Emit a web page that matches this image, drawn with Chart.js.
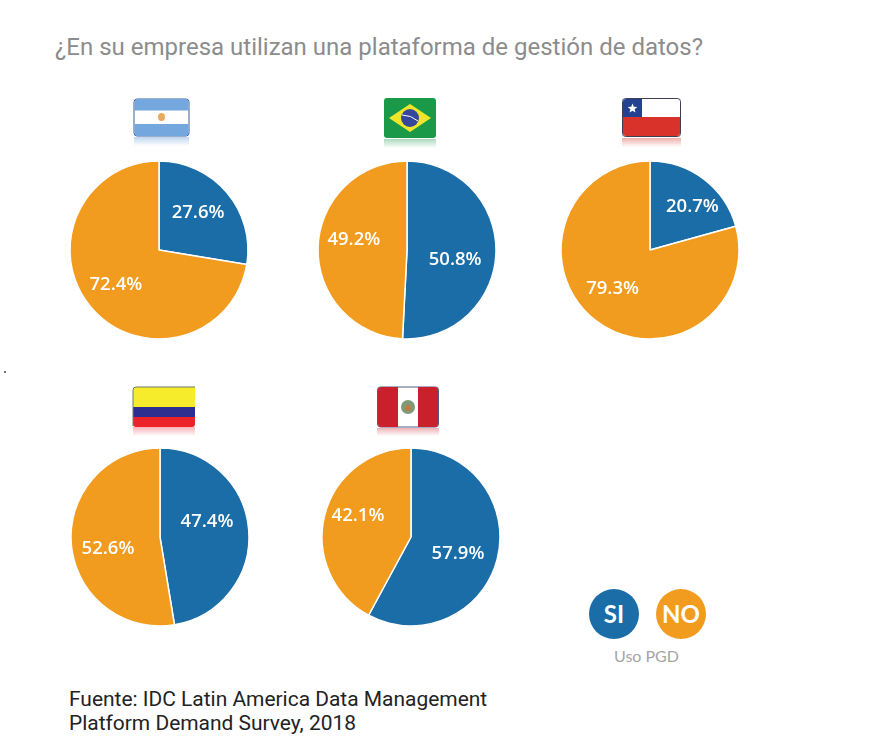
<!DOCTYPE html>
<html lang="es">
<head>
<meta charset="utf-8">
<title>Uso PGD</title>
<script src="https://cdn.jsdelivr.net/npm/chart.js@4/dist/chart.umd.min.js"></script>
<style>
html, body { margin: 0; background: #fff; }
#page { position: relative; width: 880px; height: 750px; overflow: hidden; }
#page > * { position: absolute; }
canvas { width: 200px; height: 200px; }
#title { left: 55px; top: 33px; font: 24px Roboto, sans-serif; color: #8c8c8c; white-space: nowrap; }
#source { left: 69px; top: 687px; font: 20.950px/24px Roboto, sans-serif; color: #222; white-space: nowrap; }
.dot { width: 50px; height: 50px; border-radius: 50%; color: #fff; font: 700 24px/50px Lato, sans-serif; text-align: center; }
#si { left: 589px; top: 589px; background: #1b6da8; }
#no { left: 656px; top: 589px; background: #f29c1f; }
#uso { left: 614px; top: 646px; font: 16px Lato, sans-serif; color: #a5a5a5; white-space: nowrap; }
#speck { left: 4px; top: 371px; width: 2px; height: 2px; background: #777; }
.flag { filter: blur(.5px); overflow: visible; }
</style>
</head>
<body>
<div id="page">
  <div id="title">¿En su empresa utilizan una plataforma de gestión de datos?</div>

  <svg class="flag" style="left:133px;top:98px" width="57" height="50" viewBox="0 0 57 50">
    <defs><linearGradient id="fadeAr" x1="0" y1="0" x2="0" y2="1"><stop offset="0" stop-color="#6fa3dc" stop-opacity=".45"/><stop offset="1" stop-color="#6fa3dc" stop-opacity="0"/></linearGradient></defs>
    <rect x="1" y="39" width="55" height="9" fill="url(#fadeAr)"/>
    <rect x="1" y="1" width="55" height="37" rx="3" fill="#fff" stroke="#3a5f92"/>
    <path d="M1.5 4a3 3 0 0 1 3-3h48a3 3 0 0 1 3 3v8.500h-54z" fill="#74a7de"/>
    <path d="M1.500 26h54v9a3 3 0 0 1-3 3h-48a3 3 0 0 1-3-3z" fill="#74a7de"/>
    <ellipse cx="28.500" cy="19" rx="3.500" ry="4" fill="#eba960"/>
  </svg>

  <svg class="flag" style="left:384px;top:98px" width="53" height="52" viewBox="0 0 53 52">
    <defs><linearGradient id="fadeBr" x1="0" y1="0" x2="0" y2="1"><stop offset="0" stop-color="#2f9e58" stop-opacity=".4"/><stop offset="1" stop-color="#2f9e58" stop-opacity="0"/></linearGradient></defs>
    <rect x="0" y="41" width="52" height="9" fill="url(#fadeBr)"/>
    <rect x="0" y="0" width="52" height="40" rx="3" fill="#1a9a48"/>
    <path d="M26 6 47 20 26 34 5 20z" fill="#efe62a"/>
    <circle cx="26" cy="20" r="9" fill="#34479a"/>
    <path d="M18 17q9 0 16 6" stroke="#fff" stroke-width="1" fill="none"/>
  </svg>

  <svg class="flag" style="left:622px;top:98px" width="60" height="52" viewBox="0 0 60 52">
    <defs><linearGradient id="fadeCl" x1="0" y1="0" x2="0" y2="1"><stop offset="0" stop-color="#d9362b" stop-opacity=".4"/><stop offset="1" stop-color="#d9362b" stop-opacity="0"/></linearGradient></defs>
    <rect x="0" y="40" width="59" height="9" fill="url(#fadeCl)"/>
    <rect x="0.500" y="0.500" width="58" height="38" rx="3" fill="#fff" stroke="#3f3f55"/>
    <path d="M1 19h57v16a3 3 0 0 1-3 3H4a3 3 0 0 1-3-3z" fill="#d9322a"/>
    <path d="M1 4a3 3 0 0 1 3-3h16v18H1z" fill="#24418f"/>
    <path d="M10.500 5.500l1.300 3.300 3.500.2-2.700 2.200.9 3.400-3-1.900-3 1.900.9-3.400-2.700-2.200 3.500-.2z" fill="#fff"/>
  </svg>

  <svg class="flag" style="left:133px;top:386px" width="63" height="52" viewBox="0 0 63 52">
    <defs><linearGradient id="fadeCo" x1="0" y1="0" x2="0" y2="1"><stop offset="0" stop-color="#e8222c" stop-opacity=".35"/><stop offset="1" stop-color="#e8222c" stop-opacity="0"/></linearGradient></defs>
    <rect x="0" y="41" width="62" height="9" fill="url(#fadeCo)"/>
    <path d="M0 4a3 3 0 0 1 3-3h59v20H0z" fill="#f6ec2b"/>
    <rect x="0" y="21" width="62" height="10" fill="#2c2f8f"/>
    <path d="M0 31h62v7a3 3 0 0 1-3 3H3a3 3 0 0 1-3-3z" fill="#ec2229"/>
    <path d="M0 40V4a3 3 0 0 1 3-3h59" fill="none" stroke="#6d7a70"/>
  </svg>

  <svg class="flag" style="left:377px;top:386px" width="63" height="52" viewBox="0 0 63 52">
    <defs><linearGradient id="fadePe" x1="0" y1="0" x2="0" y2="1"><stop offset="0" stop-color="#c9202c" stop-opacity=".35"/><stop offset="1" stop-color="#c9202c" stop-opacity="0"/></linearGradient></defs>
    <rect x="0" y="42" width="62" height="8" fill="url(#fadePe)"/>
    <rect x="0.500" y="1" width="61" height="40" rx="3" fill="#fff" stroke="#4f5a86"/>
    <path d="M1 4a3 3 0 0 1 3-3h17v40H4a3 3 0 0 1-3-3z" fill="#c9202c"/>
    <path d="M41 1h17a3 3 0 0 1 3 3v34a3 3 0 0 1-3 3H41z" fill="#c9202c"/>
    <circle cx="31" cy="21" r="7" fill="#7f9a7a"/>
    <circle cx="31" cy="22" r="3" fill="#c2793f"/>
  </svg>

  <canvas id="pie0" width="200" height="200" style="left:59px;top:150px"></canvas>
  <canvas id="pie1" width="200" height="200" style="left:307px;top:150px"></canvas>
  <canvas id="pie2" width="200" height="200" style="left:550px;top:150px"></canvas>
  <canvas id="pie3" width="200" height="200" style="left:60px;top:437px"></canvas>
  <canvas id="pie4" width="200" height="200" style="left:311px;top:437px"></canvas>

  <div class="dot" id="si">SI</div>
  <div class="dot" id="no">NO</div>
  <div id="uso">Uso PGD</div>
  <div id="speck"></div>
  <div id="source">Fuente: IDC Latin America Data Management<br>Platform Demand Survey, 2018</div>
</div>

<script>
const countries = ["Argentina", "Brasil", "Chile", "Colombia", "Perú"];
const answers = ["SI", "NO"];
const siValues = [27.6, 50.8, 20.7, 47.4, 57.9];
const noValues = [72.4, 49.2, 79.3, 52.6, 42.1];

const colors = ["#1b6da8", "#f29c1f"];

// small nudges so the labels sit where they do in the original, [x, y] per slice
const labelNudge = [
    [[-3, -1.500], [-1, -1]],
    [[-7, 8], [2, -9]],
    [[9, 1], [-4, -5]],
    [[-8, -11], [3, 7.500]],
    [[-6.500, 3.500], [0.500, -7.500]]
];

const sliceLabels = {
    id: "sliceLabels",
    afterDatasetsDraw(chart) {
        const ctx = chart.ctx;
        const nudge = labelNudge[chart.canvas.id.replace("pie", "")];
        ctx.save();
        ctx.fillStyle = "#fff";
        ctx.font = "600 18.500px 'Open Sans', sans-serif";
        ctx.textAlign = "center";
        ctx.textBaseline = "middle";
        chart.getDatasetMeta(0).data.forEach((arc, i) => {
            const mid = (arc.startAngle + arc.endAngle) / 2;
            const x = arc.x + Math.cos(mid) * arc.outerRadius * 0.62 + nudge[i][0];
            const y = arc.y + Math.sin(mid) * arc.outerRadius * 0.62 + nudge[i][1];
            ctx.fillText(chart.data.datasets[0].data[i].toFixed(1) + "%", x, y);
        });
        ctx.restore();
    }
};

countries.forEach((country, i) => {
    new Chart(document.getElementById("pie" + i), {
        type: "pie",
        data: {
            labels: answers,
            datasets: [{
                label: country,
                data: [siValues[i], noValues[i]],
                backgroundColor: colors,
                borderColor: "#fff",
                borderWidth: 1.5
            }]
        },
        options: {
            responsive: false,
            animation: false,
            radius: 89,
            plugins: {
                legend: { display: false },
                tooltip: { enabled: false }
            }
        },
        plugins: [sliceLabels]
    });
});
</script>
</body>
</html>
